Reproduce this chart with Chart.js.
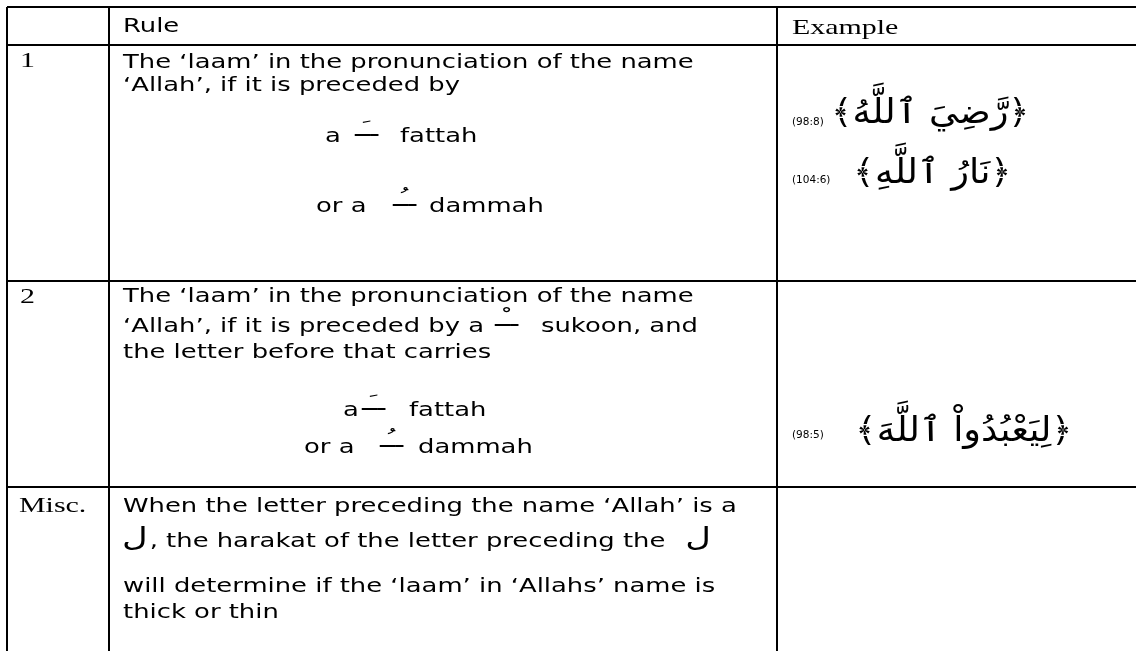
<!DOCTYPE html>
<html><head><meta charset="utf-8">
<script src="https://cdn.jsdelivr.net/npm/chart.js@4"></script>
<style>
html,body{margin:0;padding:0;background:#fff;overflow:hidden}
#wrap{position:absolute;left:0;top:0;width:1136px;height:651px}
</style>
</head><body><div id="wrap"><canvas id="c"></canvas></div>
<script>
// ---- data (text content of the table) ----
const headerLabels = ['', 'Rule', 'Example'];
const rowLabels = ['1', '2', 'Misc.'];
const rule1Lines = ['The \u2018laam\u2019 in the pronunciation of the name', '\u2018Allah\u2019, if it is preceded by'];
const rule1Options = [['a', 'fattah'], ['or a', 'dammah']];
const rule2Lines = ['The \u2018laam\u2019 in the pronunciation of the name', '\u2018Allah\u2019, if it is preceded by a', 'the letter before that carries'];
const rule2Sukoon = 'sukoon, and';
const rule2Options = [['a', 'fattah'], ['or a', 'dammah']];
const miscLines = ['When the letter preceding the name \u2018Allah\u2019 is a', ', the harakat of the letter preceding the', 'will determine if the \u2018laam\u2019 in \u2018Allahs\u2019 name is', 'thick or thin'];
const miscLetter = '\u0644';
const harakatMarks = { fattah: '\u064E', dammah: '\u064F', sukoon: '\u0652' };
const examples = ['\uFD3F\u0631\u064E\u0651\u0636\u0650\u064A\u064E \u0671\u0644\u0644\u064E\u0651\u0647\u064F\uFD3E',
                  '\uFD3F\u0646\u064E\u0627\u0631\u064F \u0671\u0644\u0644\u064E\u0651\u0647\u0650\uFD3E',
                  '\uFD3F\u0644\u0650\u064A\u064E\u0639\u0652\u0628\u064F\u062F\u064F\u0648\u0627\u0652 \u0671\u0644\u0644\u064E\u0651\u0647\u064E\uFD3E'];
const references = ['(98:8)', '(104:6)', '(98:5)'];

// ---- layout (table grid in table units, origin = top-left corner of table) ----
const colEdges = [0, 102, 770];
const rowEdges = [0, 38, 274, 480];
const TABLE_W = 1129, TABLE_H = 644;
const SX = 1.36;
const SANS = '"DejaVu Sans", Verdana, sans-serif';
const SERIF = '"Liberation Serif", "Times New Roman", serif';

function drawText(ctx, s, x, y, font, opts) {
  opts = opts || {};
  ctx.save();
  ctx.font = font;
  ctx.fillStyle = '#000';
  ctx.direction = opts.dir || 'ltr';
  ctx.textAlign = opts.align || 'left';
  ctx.textBaseline = 'alphabetic';
  const sx = opts.sx || SX;
  ctx.translate(x, y);
  ctx.scale(sx, 1);
  ctx.fillText(s, 0, 0);
  const w = ctx.measureText(s).width * sx;
  ctx.restore();
  return w;
}
function drawMark(ctx, mark, x, y) {
  // tatweel carrier with the harakah on the middle segment
  drawText(ctx, '\u0640' + '\u0640' + mark + '\u0640', x, y - 6, '22px ' + SANS, { dir: 'rtl', align: 'left', sx: 1.2 });
}

const tablePlugin = {
  id: 'tableText',
  afterDraw(chart) {
    const ctx = chart.ctx;
    const xs = chart.scales.x, ys = chart.scales.y;
    const cx = i => xs.getPixelForValue(colEdges[i]);
    const ry = i => ys.getPixelForValue(rowEdges[i]);
    const body = '19px ' + SANS;

    // header
    drawText(ctx, headerLabels[1], cx(1) + 14, ry(0) + 25, body);
    drawText(ctx, headerLabels[2], cx(2) + 15, ry(0) + 27, '22px ' + SERIF);

    // row labels
    drawText(ctx, rowLabels[0], cx(0) + 13, ry(1) + 22, '22px ' + SERIF);
    drawText(ctx, rowLabels[1], cx(0) + 13, ry(2) + 22, '22px ' + SERIF);
    drawText(ctx, rowLabels[2], cx(0) + 12, ry(3) + 25, '22px ' + SERIF);

    // row 1 rule
    const L = cx(1) + 14;
    drawText(ctx, rule1Lines[0], L, ry(1) + 23, body);
    drawText(ctx, rule1Lines[1], L, ry(1) + 46, body);
    drawText(ctx, rule1Options[0][0], cx(1) + 216, ry(1) + 97, body);
    drawMark(ctx, harakatMarks.fattah, cx(1) + 246, ry(1) + 97);
    drawText(ctx, rule1Options[0][1], cx(1) + 291, ry(1) + 97, body);
    drawText(ctx, rule1Options[1][0], cx(1) + 207, ry(1) + 167, body);
    drawMark(ctx, harakatMarks.dammah, cx(1) + 284, ry(1) + 167);
    drawText(ctx, rule1Options[1][1], cx(1) + 320, ry(1) + 167, body);

    // row 2 rule
    drawText(ctx, rule2Lines[0], L, ry(2) + 21, body);
    drawText(ctx, rule2Lines[1], L, ry(2) + 51, body);
    drawMark(ctx, harakatMarks.sukoon, cx(1) + 386, ry(2) + 51);
    drawText(ctx, rule2Sukoon, cx(1) + 432, ry(2) + 51, body);
    drawText(ctx, rule2Lines[2], L, ry(2) + 77, body);
    drawText(ctx, rule2Options[0][0], cx(1) + 234, ry(2) + 135, body);
    drawMark(ctx, harakatMarks.fattah, cx(1) + 253, ry(2) + 135);
    drawText(ctx, rule2Options[0][1], cx(1) + 300, ry(2) + 135, body);
    drawText(ctx, rule2Options[1][0], cx(1) + 195, ry(2) + 172, body);
    drawMark(ctx, harakatMarks.dammah, cx(1) + 271, ry(2) + 172);
    drawText(ctx, rule2Options[1][1], cx(1) + 309, ry(2) + 172, body);

    // misc row
    drawText(ctx, miscLines[0], L, ry(3) + 25, body);
    const lw = drawText(ctx, miscLetter, L - 1, ry(3) + 59, '26px ' + SANS, { dir: 'rtl', align: 'left' });
    const tw = drawText(ctx, miscLines[1], L - 1 + lw + 2, ry(3) + 60, body);
    drawText(ctx, miscLetter, L - 1 + lw + 2 + tw + 20, ry(3) + 59, '26px ' + SANS, { dir: 'rtl', align: 'left' });
    drawText(ctx, miscLines[2], L, ry(3) + 105, body);
    drawText(ctx, miscLines[3], L, ry(3) + 131, body);

    // examples
    const E = cx(2);
    const exRight = [253, 235, 296];
    const exBase = [ry(1) + 78, ry(1) + 138, ry(2) + 160];
    const refBase = [ry(1) + 80, ry(1) + 138, ry(2) + 157];
    for (let i = 0; i < examples.length; i++) {
      drawText(ctx, references[i], E + 15, refBase[i], '10.5px ' + SANS, { sx: 1.0 });
      drawText(ctx, examples[i], E + exRight[i], exBase[i], '34px ' + SANS, { dir: 'rtl', align: 'right', sx: 1.08 });
    }
  }
};

const axisCommon = {
  type: 'linear',
  display: true,
  ticks: { display: false },
  grid: { color: '#000', lineWidth: 2, drawTicks: false },
  border: { display: false }
};

new Chart(document.getElementById('c'), {
  type: 'scatter',
  data: { datasets: [] },
  options: {
    responsive: true,
    maintainAspectRatio: false,
    animation: false,
    layout: { padding: { left: 7, top: 7, right: 0, bottom: 0 } },
    plugins: { legend: { display: false }, tooltip: { enabled: false } },
    scales: {
      x: Object.assign({}, axisCommon, {
        min: 0, max: TABLE_W,
        afterBuildTicks: a => { a.ticks = colEdges.map(v => ({ value: v })); }
      }),
      y: Object.assign({}, axisCommon, {
        min: 0, max: TABLE_H, reverse: true,
        afterBuildTicks: a => { a.ticks = rowEdges.map(v => ({ value: v })); }
      })
    }
  },
  plugins: [tablePlugin]
});
</script>
</body></html>
